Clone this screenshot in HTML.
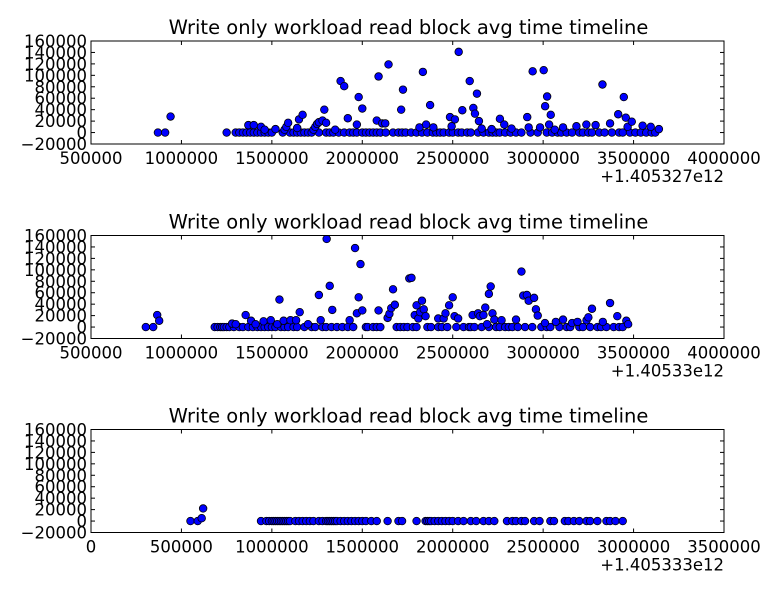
<!DOCTYPE html>
<html><head><meta charset="utf-8"><style>
body{margin:0;background:#fff}
svg{display:block;font-family:"DejaVu Sans","Liberation Sans",sans-serif}
</style></head><body>
<svg id="fig" width="778" height="592" viewBox="0 0 778 592"></svg>
<script>
// Subplot 1 data (time offset in thousands, value)
const xs1 = [940,1370,1400,1440,1460,1520,1570,1580,1590,1640,1650,1670,1730,1740,1750,1760,1780,1790,1800,1850,1880,1900,1920,1970,1980,2000,2080,2090,2110,2127,2145,2215,2225,2316,2335,2353,2375,2393,2485,2494,2512,2533,2553,2594,2614,2623,2634,2645,2660,2715,2761,2785,2825,2912,2920,2942,2983,3003,3011,3022,3033,3042,3064,3110,3184,3239,3290,3328,3370,3415,3446,3457,3467,3490,3550,3595,3640];
const ys1 = [28000,13000,13000,10000,5000,6000,5000,10000,17000,8000,23000,31000,5000,10000,15000,18000,21000,40000,17000,5000,90000,81000,25000,14000,62000,42000,21000,98000,16000,16000,119000,40000,75000,9000,106000,14000,48000,9000,27000,11000,23000,141000,39000,90000,43000,33000,68000,20000,7000,6000,24000,14000,7000,27000,9000,107000,9000,109000,46000,63000,14000,31000,5000,9000,11000,14000,13000,84000,16000,32000,62000,26000,10000,19000,12000,10000,6000];
const zeros1 = [870,910,1250,1300,1320,1340,1360,1380,1400,1420,1440,1460,1480,1500,1560,1600,1620,1640,1660,1680,1700,1720,1760,1800,1820,1840,1870,1900,1930,1950,1970,2000,2020,2040,2060,2080,2100,2130,2170,2200,2220,2240,2270,2300,2330,2360,2390,2410,2430,2450,2480,2500,2530,2550,2580,2600,2640,2670,2700,2720,2740,2760,2790,2820,2850,2880,2930,2970,3020,3050,3080,3100,3130,3160,3200,3220,3250,3270,3310,3340,3380,3420,3440,3480,3510,3540,3570,3600,3620];
// Subplot 2 data
const xs2 = [866,877,1280,1300,1355,1385,1410,1454,1494,1530,1542,1565,1603,1634,1654,1700,1760,1770,1803,1820,1834,1930,1960,1970,1980,1990,2000,2090,2140,2150,2160,2170,2180,2260,2272,2290,2300,2310,2320,2330,2340,2350,2420,2450,2460,2480,2500,2510,2530,2610,2640,2650,2670,2680,2690,2700,2710,2720,2730,2770,2850,2880,2890,2910,2920,2950,2960,2970,3010,3070,3110,3160,3190,3240,3250,3270,3330,3370,3410,3460,3470];
const ys2 = [21000,11000,6000,5000,21000,11000,5000,10000,12000,5000,48000,11000,12000,12000,26000,5000,56000,12000,154000,72000,30000,12000,138000,24000,52000,110000,29000,29000,16000,23000,33000,66000,39000,85000,86000,21000,38000,15000,26000,46000,31000,19000,15000,15000,24000,38000,52000,19000,15000,21000,24000,19000,21000,34000,5000,58000,71000,24000,13000,12000,13000,97000,55000,56000,46000,51000,31000,20000,7000,9000,13000,7000,9000,12000,17000,32000,9000,42000,19000,11000,5000];
const zeros2 = [803,844,1184,1200,1215,1225,1235,1250,1265,1290,1320,1340,1370,1395,1420,1440,1460,1480,1500,1520,1550,1570,1590,1620,1640,1680,1720,1740,1780,1800,1830,1860,1890,1920,1950,2020,2030,2060,2080,2100,2190,2210,2230,2250,2280,2300,2360,2380,2420,2440,2470,2520,2560,2590,2600,2620,2660,2700,2740,2760,2790,2810,2830,2860,2900,2940,2990,3020,3040,3090,3130,3150,3200,3220,3260,3300,3320,3350,3390,3420,3440];
// Subplot 3 data
const xs3 = [612,620];
const ys3 = [5000,22000];
const zeros3 = [550,590,940,970,985,1000,1010,1020,1030,1040,1050,1060,1070,1080,1090,1100,1130,1150,1170,1190,1210,1230,1260,1280,1300,1310,1320,1330,1340,1350,1360,1380,1400,1420,1440,1460,1480,1500,1520,1550,1580,1640,1700,1720,1800,1850,1860,1870,1880,1900,1920,1940,1960,1980,2000,2030,2060,2100,2130,2170,2200,2230,2300,2330,2350,2380,2400,2450,2480,2540,2560,2620,2640,2670,2700,2740,2760,2800,2850,2870,2900,2940];
const yTicks = [-20000,0,20000,40000,60000,80000,100000,120000,140000,160000];
const xTicksA = [500000,1000000,1500000,2000000,2500000,3000000,3500000,4000000];
const xTicksB = [0,500000,1000000,1500000,2000000,2500000,3000000,3500000];
const offsets = ["+1.405327e12","+1.40533e12","+1.405333e12"];
const titleText = "Write only workload read block avg time timeline";

const NS="http://www.w3.org/2000/svg";
const svg=document.getElementById('fig');
function mk(tag,attrs,parent){const e=document.createElementNS(NS,tag);for(const k in attrs)e.setAttribute(k,attrs[k]);(parent||svg).appendChild(e);return e;}

const L=91,R=724,H=103;
const tops=[41,235.5,429.5];
const panels=[
 {xs:xs1,ys:ys1,zeros:zeros1,xt:xTicksA,xmin:500000,xmax:4000000},
 {xs:xs2,ys:ys2,zeros:zeros2,xt:xTicksA,xmin:500000,xmax:4000000},
 {xs:xs3,ys:ys3,zeros:zeros3,xt:xTicksB,xmin:0,xmax:3500000}
];
panels.forEach((p,i)=>{
  const T=tops[i],B=T+H;
  const g=mk('g',{});
  
  
  const xS=v=>L+(v-p.xmin)/(p.xmax-p.xmin)*(R-L);
  const yS=v=>B-(v+20000)/180000*H;
  const t=mk('text',{x:(L+R)/2+1,y:T-7,'text-anchor':'middle','font-size':'19.5'},g);
  t.textContent=titleText;
  
  
  const pts=mk('g',{},g);
  
  
  const clip='c'+i;
  const cp=mk('clipPath',{id:clip},g);mk('rect',{x:L,y:T,width:R-L,height:H},cp);
  pts.setAttribute('clip-path','url(#'+clip+')');
  const dot=(x,y)=>{const c=mk('circle',{cx:xS(x*1000),cy:yS(y),r:3.8,fill:'#0000ff',stroke:'#000','stroke-width':0.8},pts);
    
    };
  p.zeros.forEach(x=>dot(x,0));
  p.xs.forEach((x,j)=>dot(x,p.ys[j]));
  const box=mk('rect',{x:L,y:T,width:R-L,height:H,fill:'none',stroke:'#000','stroke-width':1},g);
  
  
  yTicks.forEach(v=>{const y=yS(v);
    mk('line',{x1:L,x2:L+4,y1:y,y2:y,stroke:'#000'},g);
    mk('line',{x1:R,x2:R-4,y1:y,y2:y,stroke:'#000'},g);
    const tx=mk('text',{x:L-4,y:y+6,'text-anchor':'end','font-size':'16.5'},g);
    tx.textContent=v<0?'\u2212'+Math.abs(v):String(v);
    
    });
  p.xt.forEach(v=>{const x=xS(v);
    mk('line',{x1:x,x2:x,y1:B,y2:B-4,stroke:'#000'},g);
    mk('line',{x1:x,x2:x,y1:T,y2:T+4,stroke:'#000'},g);
    const tx=mk('text',{x:x,y:B+20,'text-anchor':'middle','font-size':'16.5'},g);
    tx.textContent=String(v);
    
    });
  const o=mk('text',{x:R,y:B+38,'text-anchor':'end','font-size':'16.5'},g);
  o.textContent=offsets[i];
  
  
});
</script>
</body></html>
